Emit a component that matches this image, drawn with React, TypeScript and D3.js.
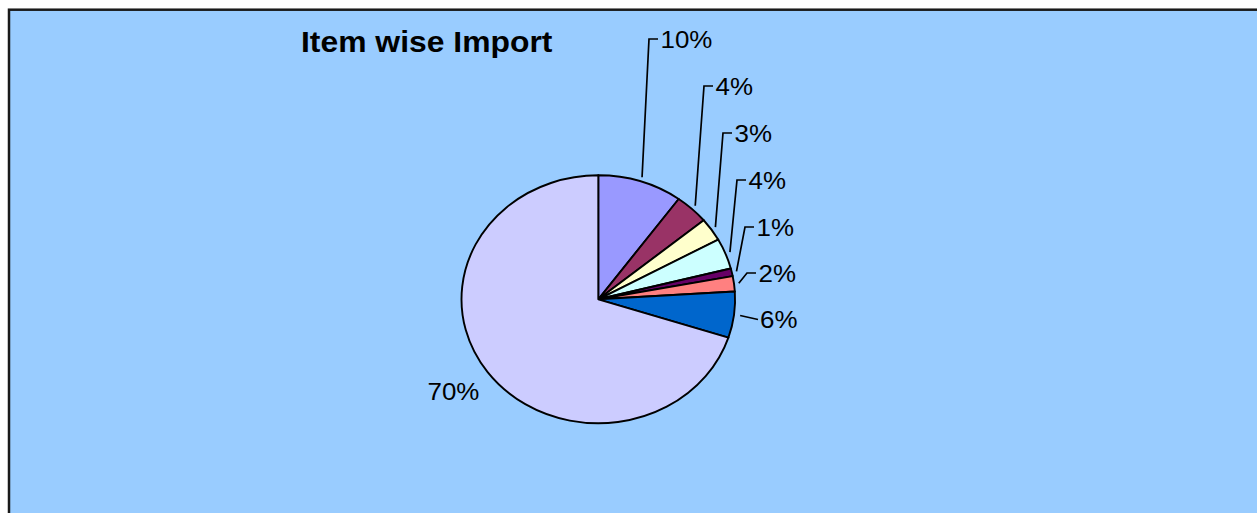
import React from "react";
import * as d3 from "d3";

const categories = ["Item A", "Item B", "Item C", "Item D", "Item E", "Item F", "Item G", "Item H"];
const values = [10, 4, 3, 4, 1, 2, 6, 70];
const labels = ["10%", "4%", "3%", "4%", "1%", "2%", "6%", "70%"];
const colors = ["#9999FF", "#993366", "#FFFFCC", "#CCFFFF", "#660066", "#FF8080", "#0066CC", "#CCCCFF"];

// layout: leader elbow positions (null = straight / no leader)
const labelElbows: ([number, number] | null)[] = [
  [649, 39], [704, 86], [723, 133], [737, 180], [745, 227], [747, 273], null, null,
];

const W = 1257;
const H = 513;
const cx = 598.3;
const cy = 299.3;
const ry = 124;
const rx = 136.8;
const sx = rx / ry;
const labelSize = 23.5;

export default function App() {
  const pie = d3.pie<number>().sort(null).value((d) => d)(values);
  const arc = d3.arc<d3.PieArcDatum<number>>().innerRadius(0).outerRadius(ry);

  const edgePoint = (a: d3.PieArcDatum<number>, f: number): [number, number] => {
    const m = (a.startAngle + a.endAngle) / 2;
    return [cx + rx * f * Math.sin(m), cy - ry * f * Math.cos(m)];
  };

  const Txt = (p: { x: number; y: number; size: number; bold?: boolean; children: string }) => (
    <text
      transform={`translate(${p.x},${p.y}) scale(${sx},1)`}
      fontFamily="Liberation Sans, Arial, sans-serif"
      fontSize={p.size}
      fontWeight={p.bold ? "bold" : "normal"}
      fill="#000"
    >
      {p.children}
    </text>
  );

  return (
    <svg
      width={W}
      height={H}
      style={{ position: "absolute", left: 0, top: 0, display: "block" }}
    >
      <rect x={0} y={0} width={W} height={H} fill="#ffffff" />
      <rect x={9} y={9.7} width={1400} height={700} fill="#99CCFF" stroke="#1a1a1a" strokeWidth={2.5} />
      <Txt x={301} y={52.3} size={28.9} bold>
        Item wise Import
      </Txt>
      <g transform={`translate(${cx},${cy}) scale(${sx},1)`}>
        {pie.map((a, i) => (
          <path
            key={categories[i]}
            d={arc(a) || ""}
            fill={colors[i]}
            stroke="#000"
            strokeWidth={1.9}
            vectorEffect="non-scaling-stroke"
            strokeLinejoin="round"
          />
        ))}
      </g>
      {pie.map((a, i) => {
        const el = labelElbows[i];
        if (i === 7) {
          return (
            <Txt key={"l" + i} x={427.5} y={400} size={labelSize}>
              {labels[i]}
            </Txt>
          );
        }
        if (el) {
          const s = edgePoint(a, 1.035);
          return (
            <g key={"l" + i}>
              <polyline
                points={`${s[0]},${s[1]} ${el[0]},${el[1]} ${el[0] + 9},${el[1]}`}
                fill="none"
                stroke="#000"
                strokeWidth={1.7}
              />
              <Txt x={el[0] + 11.5} y={el[1] + 9} size={labelSize}>
                {labels[i]}
              </Txt>
            </g>
          );
        }
        const s = edgePoint(a, 1.045);
        return (
          <g key={"l" + i}>
            <line x1={s[0]} y1={s[1]} x2={758} y2={319.5} stroke="#000" strokeWidth={1.7} />
            <Txt x={760} y={328} size={labelSize}>
              {labels[i]}
            </Txt>
          </g>
        );
      })}
    </svg>
  );
}
